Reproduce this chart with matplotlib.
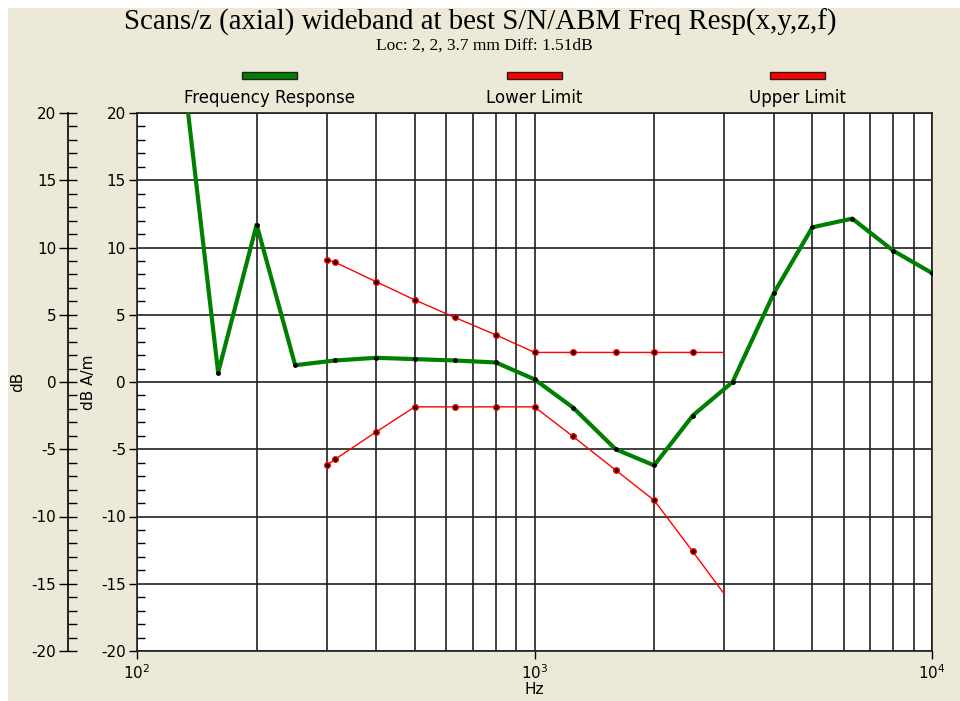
import matplotlib
matplotlib.use("Agg")
import matplotlib.pyplot as plt
from matplotlib.patches import Rectangle
from matplotlib.ticker import MultipleLocator, LogLocator, NullFormatter

plt.rcParams["axes.unicode_minus"] = False

# data
freq_hz = [125, 160, 200, 250, 315, 400, 500, 630, 800, 1000, 1250, 1600,
           2000, 2500, 3150, 4000, 5000, 6300, 8000, 10000]
freq_db = [28.1, 0.7, 11.7, 1.25, 1.6, 1.8, 1.7, 1.6, 1.45, 0.2, -1.9, -5.0,
           -6.2, -2.5, 0.0, 6.6, 11.5, 12.15, 9.75, 8.1]

limit_hz = [300, 315, 400, 500, 630, 800, 1000, 1250, 1600, 2000, 2500, 3000]
upper_db = [9.1, 8.9, 7.45, 6.1, 4.8, 3.5, 2.2, 2.2, 2.2, 2.2, 2.2, 2.2]
lower_db = [-6.2, -5.75, -3.7, -1.85, -1.85, -1.85, -1.85, -4.05, -6.55,
            -8.8, -12.6, -15.75]

legend_names = ["Frequency Response", "Lower Limit", "Upper Limit"]

W, H = 960, 701
BEIGE = "#ECE9D8"
GREEN = "#008000"

fig = plt.figure(figsize=(W / 100, H / 100), dpi=100)
fig.patch.set_facecolor("white")
fig.add_artist(Rectangle((8 / W, 0), 1 - 8 / W, 1 - 8 / H, transform=fig.transFigure,
                         facecolor=BEIGE, edgecolor="none", zorder=-1))

# plot area in pixels
left, right, top, bottom = 137, 932, 113, 651
pos = [left / W, (H - bottom) / H, (right - left) / W, (bottom - top) / H]
ax = fig.add_axes(pos)
ax.set_facecolor("white")

ax.plot(limit_hz, upper_db, color="red", lw=1, marker="o", ms=4,
        mfc="black", mec="red", mew=1, markevery=slice(0, -1), zorder=3)
ax.plot(limit_hz, lower_db, color="red", lw=1, marker="o", ms=4,
        mfc="black", mec="red", mew=1, markevery=slice(0, -1), zorder=3)
ax.plot(freq_hz, freq_db, color=GREEN, lw=3, marker="o", ms=2.5,
        mfc="black", mec="black", zorder=4)

ax.set_xscale("log")
ax.set_xlim(100, 10000)
ax.set_ylim(-20, 20)
ax.xaxis.set_major_locator(LogLocator(base=10, numticks=5))
ax.xaxis.set_minor_locator(LogLocator(base=10, subs=range(2, 10), numticks=20))
ax.xaxis.set_minor_formatter(NullFormatter())
ax.yaxis.set_major_locator(MultipleLocator(5))
ax.yaxis.set_minor_locator(MultipleLocator(1))

ax.grid(which="both", axis="x", color="#202020", lw=1.2)
ax.grid(which="major", axis="y", color="#202020", lw=1.2)
ax.set_axisbelow(True)

ax.tick_params(axis="x", which="major", direction="out", length=6, width=1,
               labelsize=11, pad=3)
ax.tick_params(axis="x", which="minor", length=0)
ax.tick_params(axis="y", which="major", direction="out", length=6, width=1,
               labelsize=11, pad=2)
ax.tick_params(axis="y", which="minor", direction="in", length=6, width=1)
for s in ax.spines.values():
    s.set_color("#202020")
    s.set_linewidth(1.2)
ax.set_xlabel("Hz", fontsize=11, labelpad=0)

# outer dB axis
ax0 = fig.add_axes([68 / W, pos[1], 1e-4, pos[3]])
ax0.set_facecolor("none")
for k in ["top", "right", "bottom"]:
    ax0.spines[k].set_visible(False)
ax0.spines["left"].set_linewidth(1.2)
ax0.set_xticks([])
ax0.set_ylim(-20, 20)
ax0.yaxis.set_major_locator(MultipleLocator(5))
ax0.yaxis.set_minor_locator(MultipleLocator(1))
ax0.tick_params(axis="y", which="major", direction="inout", length=13, width=1,
                labelsize=11, pad=2)
ax0.tick_params(axis="y", which="minor", direction="in", length=6.5, width=1)

ymid = 1 - 382 / H
fig.text(18 / W, ymid, "dB", rotation=90, ha="center", va="center", fontsize=11)
fig.text(88 / W, ymid, "dB A/m", rotation=90, ha="center", va="center", fontsize=11)

# titles
fig.text(480 / W, 1 - 22 / H, "Scans/z (axial) wideband at best S/N/ABM Freq Resp(x,y,z,f)",
         ha="center", va="center", fontsize=20.8, family="Liberation Serif")
fig.text(484 / W, 1 - 46 / H, "Loc: 2, 2, 3.7 mm Diff: 1.51dB",
         ha="center", va="center", fontsize=12.5, family="Liberation Serif")

# legend drawn by hand
legend_x = [269, 534, 797]
legend_col = [GREEN, "red", "red"]
for cx, name, c in zip(legend_x, legend_names, legend_col):
    fig.add_artist(Rectangle(((cx - 27) / W, 1 - 79 / H), 55 / W, 7 / H,
                             transform=fig.transFigure, facecolor=c,
                             edgecolor="#202020", lw=1))
    fig.text(cx / W, 1 - 98 / H, name, ha="center", va="center", fontsize=12)

fig.savefig("out.png", dpi=100, facecolor=fig.get_facecolor())
